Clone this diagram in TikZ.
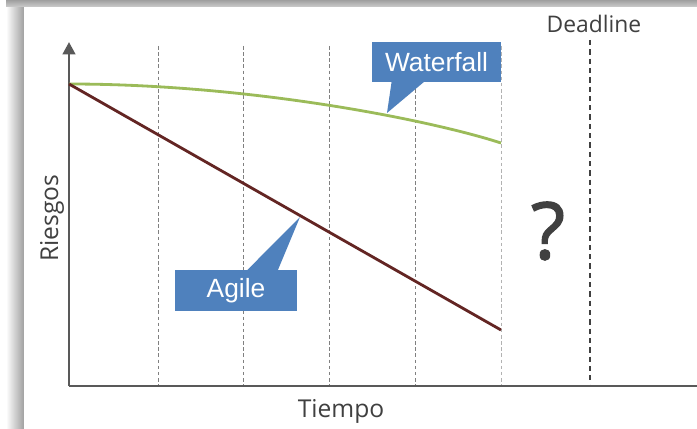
\documentclass[tikz,border=0pt]{standalone}
\usepackage{fontspec}
\setmainfont{Open Sans}
\newfontfamily\calloutfont{Liberation Sans}
\newfontfamily\unknownfont[FakeBold=1.6]{Open Sans}
\usetikzlibrary{positioning,arrows.meta,calc}
\definecolor{axisgray}{HTML}{595959}
\definecolor{textgray}{HTML}{404040}
\definecolor{wfgreen}{HTML}{9BBB59}
\definecolor{agred}{HTML}{632523}
\definecolor{calloutblue}{HTML}{4F81BD}

\begin{document}
\begin{tikzpicture}[x=0.02cm,y=-0.02cm,
		axis/.style={axisgray, line width=1.7pt},
		gridline/.style={gray, line width=0.5pt, dash pattern=on 2pt off 1.5pt},
		curve/.style={line width=1.6pt},
		calloutbox/.style={fill=calloutblue, text=white, inner sep=0pt,
			font=\calloutfont\fontsize{15}{18}\selectfont},
		axislabel/.style={text=textgray, font=\fontsize{14}{17}\selectfont}]
	\useasboundingbox (0,0) rectangle (697,429);
	% FRAME
	\fill[white] (0,0) rectangle (697,429);
	\shade[left color=white, right color=gray!75] (6,7) rectangle (24,429);
	\shade[top color=gray!75, bottom color=gray!40] (6,0) rectangle (697,7);
	\fill[white] (24,7) rectangle (697,429);
	% GRID
	\foreach \gx in {158,243,329,415}
		\draw[gridline] (\gx,46) -- (\gx,385);
	\draw[gridline, gray!60] (501,46) -- (501,385);
	% DEADLINE
	\node[axislabel, font=\fontsize{13}{15}\selectfont] (deadline) at (594,24) {Deadline};
	\coordinate (dltop) at (590,40);
	\coordinate (dlbottom) at (590,386);
	\draw[textgray, line width=0.8pt, dash pattern=on 3pt off 2.3pt] (dltop) -- (dlbottom);
	% AXES
	\coordinate (origin) at (69,386);
	\coordinate (ytop) at (69,42);
	\coordinate (xend) at (697,386);
	\draw[axis, -{Triangle[length=7pt,width=7pt]}] (origin) -- (ytop);
	\draw[axis] (origin) -- (xend);
	\node[axislabel, rotate=90] (riesgos) at (52,218) {Riesgos};
	\node[axislabel] (tiempo) at (341,411) {Tiempo};
	% CURVES
	\coordinate (start) at (69,84);
	\coordinate (wfend) at (501,143);
	\coordinate (agend) at (501,330);
	\draw[curve, wfgreen] (start) .. controls (250,84) and (430,120) .. (wfend);
	\draw[curve, agred] (start) -- (agend);
	% CALLOUTS
	\node[calloutbox, minimum width=2.58cm, minimum height=0.8cm] (waterfall) at (436.5,62) {Waterfall};
	\coordinate (wftip) at (387,113);
	\fill[calloutblue] ($(waterfall.south west)+(20,-1)$) -- (wftip) -- ($(waterfall.south west)+(53,-1)$) -- cycle;
	\node[calloutbox, minimum width=2.44cm, minimum height=0.82cm] (agile) at (236,290.5) {Agile};
	\coordinate (agtip) at (300,217);
	\fill[calloutblue] ($(agile.north west)+(72,1)$) -- (agtip) -- ($(agile.north west)+(103,1)$) -- cycle;
	% UNKNOWN
	\node[text=textgray, font=\unknownfont\fontsize{45}{52}\selectfont] (unknown) at (548,231) {?};
\end{tikzpicture}
\end{document}
